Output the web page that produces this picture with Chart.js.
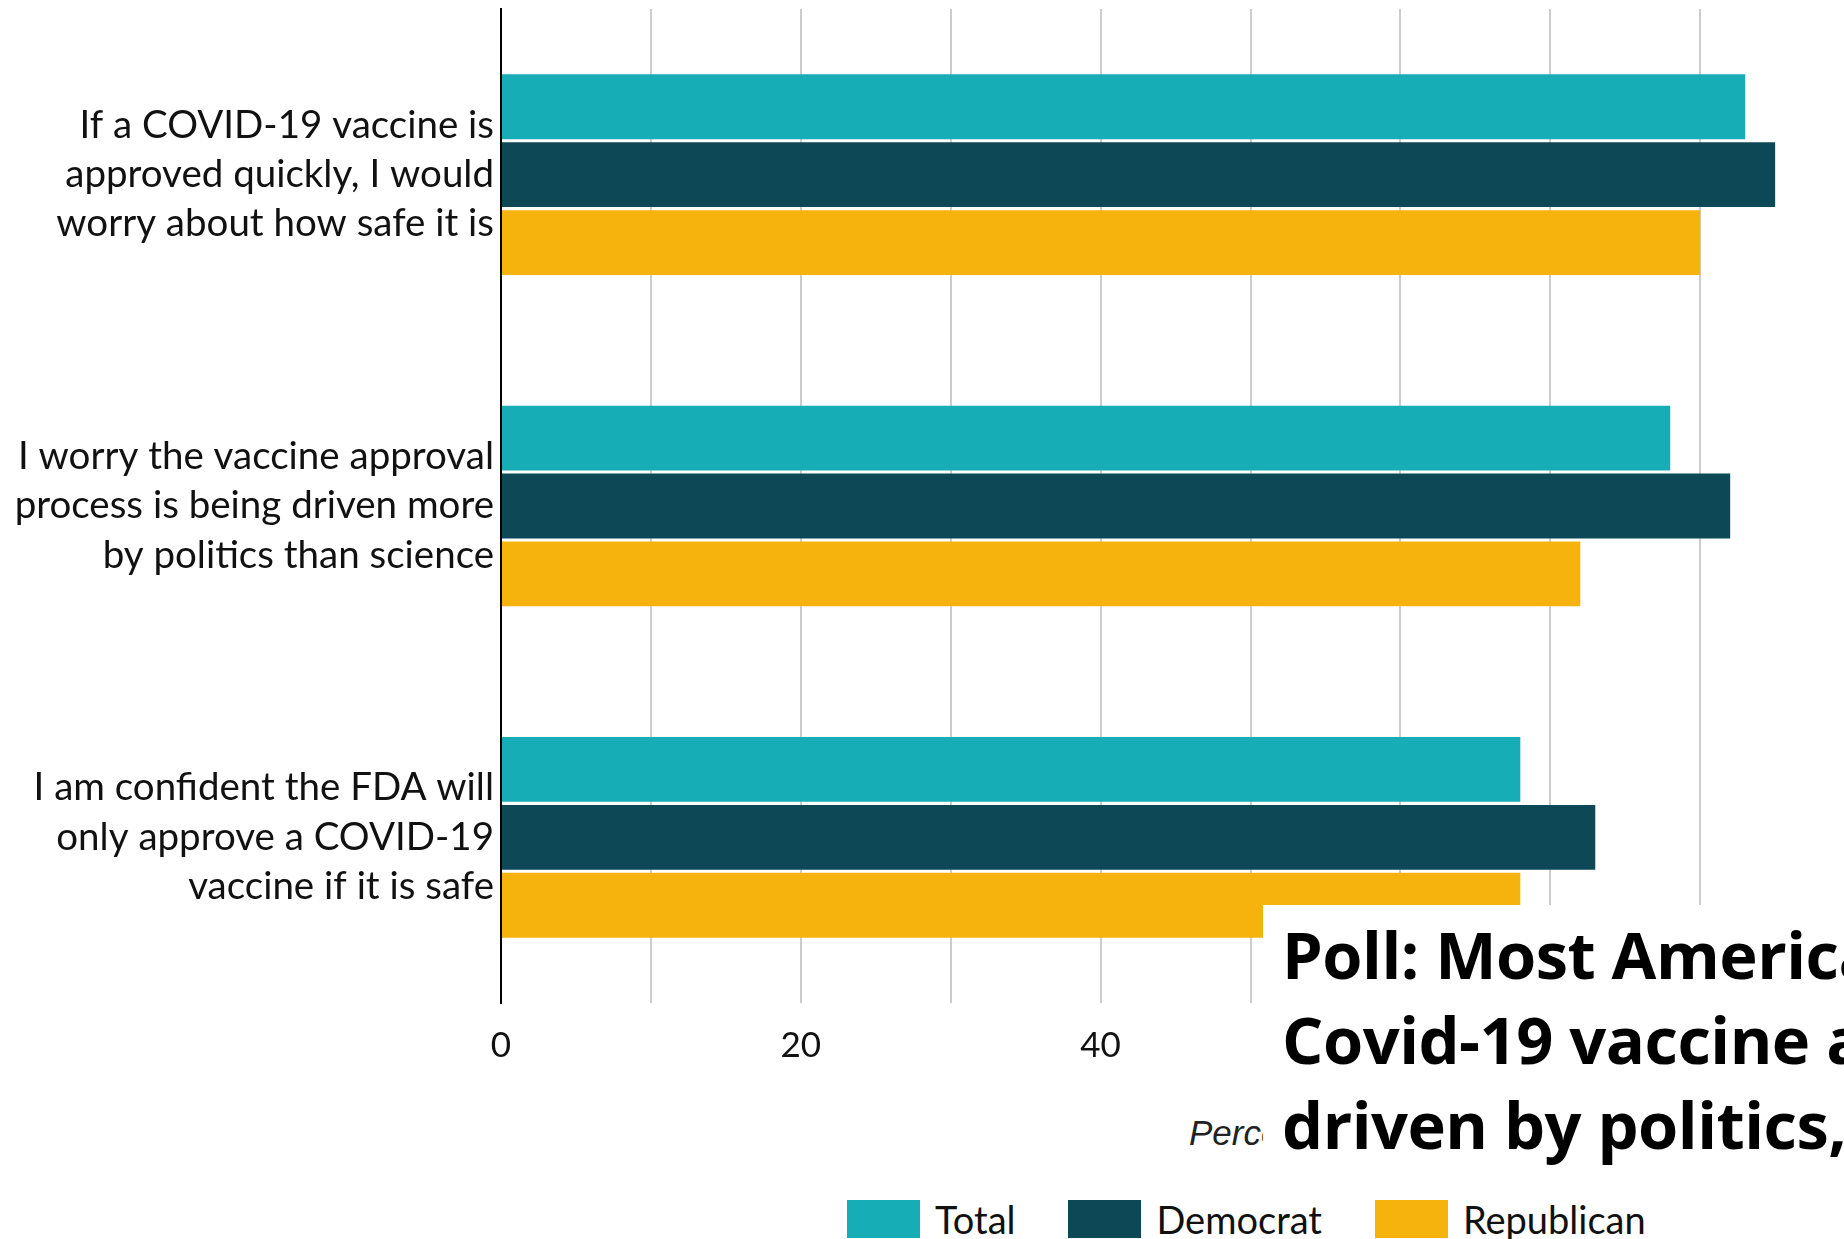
<!DOCTYPE html>
<html><head><meta charset="utf-8">
<script src="https://cdn.jsdelivr.net/npm/chart.js@4.4.1/dist/chart.umd.min.js"></script>
<style>
html,body{margin:0;padding:0;background:#fff;}
#wrap{position:relative;width:1844px;height:1239px;overflow:hidden;background:#fff;}
#c{position:absolute;left:0;top:0;}
#sub{position:absolute;left:1189px;top:1115px;font:italic 35px/1 "Liberation Sans",sans-serif;color:#222;white-space:nowrap;z-index:1;}
#titlebox{position:absolute;left:1263px;top:905px;width:700px;height:282px;background:#fff;z-index:2;padding:7.3px 0 0 19px;box-sizing:border-box;overflow:hidden;}
#title{font:700 65px/85px "Open Sans",sans-serif;color:#000;white-space:nowrap;margin:0;letter-spacing:-0.5px;}
#legend{position:absolute;left:847px;top:1200px;display:flex;align-items:center;z-index:3;font:38px/38px "Lato",sans-serif;color:#111;white-space:nowrap;}
.item{display:flex;align-items:center;margin-right:53px;}
.sw{width:73px;height:38px;margin-right:15px;flex:none;}
</style></head>
<body>
<div id="wrap">
  <canvas id="c" width="2000" height="1063"></canvas>
  <div id="sub">Percent of adults who agree</div>
  <div id="titlebox"><div id="title">Poll: Most Americans worry the<br>Covid-19 vaccine approval is<br>driven by politics, not science</div></div>
  <div id="legend"></div>
</div>
<script>
const categories = [
  ["If a COVID-19 vaccine is", "approved quickly, I would", "worry about how safe it is"],
  ["I worry the vaccine approval", "process is being driven more", "by politics than science"],
  ["I am confident the FDA will", "only approve a COVID-19", "vaccine if it is safe"]
];
const seriesNames = ["Total", "Democrat", "Republican"];
const totalValues = [83, 78, 68];
const democratValues = [85, 82, 73];
const republicanValues = [80, 72, 68];
const xTickLabels = [0, 20, 40, 60, 80, 100];

const seriesColors = ["#17ADB7", "#0D4856", "#F6B30D"];
const seriesValues = [totalValues, democratValues, republicanValues];

Chart.defaults.font.family = "Lato";
Chart.defaults.color = "#111";

const chart = new Chart(document.getElementById('c'), {
  type: 'bar',
  data: {
    labels: categories,
    datasets: seriesNames.map((n, i) => ({
      label: n,
      data: seriesValues[i],
      backgroundColor: seriesColors[i],
      borderWidth: 0,
      categoryPercentage: 0.615,
      barPercentage: 0.955
    }))
  },
  options: {
    indexAxis: 'y',
    responsive: false,
    devicePixelRatio: 1,
    animation: false,
    layout: { padding: { top: 9, left: 0, right: 0, bottom: 0 } },
    plugins: { legend: { display: false }, tooltip: { enabled: false } },
    scales: {
      x: {
        min: 0, max: 100,
        border: { display: false },
        grid: { color: '#cccccc', lineWidth: 2, drawTicks: false },
        ticks: {
          stepSize: 10,
          padding: 22,
          color: '#111',
          font: { size: 35 },
          callback: (v) => xTickLabels.includes(v) ? String(v) : ''
        },
        afterFit: (s) => { s.paddingLeft = 0; s.paddingRight = 0; s.height = 60; }
      },
      y: {
        border: { display: true, color: '#000', width: 2 },
        grid: { display: false, drawTicks: false },
        ticks: {
          padding: 7,
          color: '#111',
          font: { size: 38.5, lineHeight: 1.28 }
        },
        afterFit: (s) => { s.width = 501; s.paddingTop = 0; s.paddingBottom = 0; }
      }
    }
  }
});

const legendEl = document.getElementById('legend');
Chart.defaults.plugins.legend.labels.generateLabels(chart).forEach(it => {
  const d = document.createElement('div'); d.className = 'item';
  const sw = document.createElement('span'); sw.className = 'sw'; sw.style.background = it.fillStyle;
  const t = document.createElement('span'); t.textContent = it.text;
  d.appendChild(sw); d.appendChild(t); legendEl.appendChild(d);
});
</script>
</body></html>
